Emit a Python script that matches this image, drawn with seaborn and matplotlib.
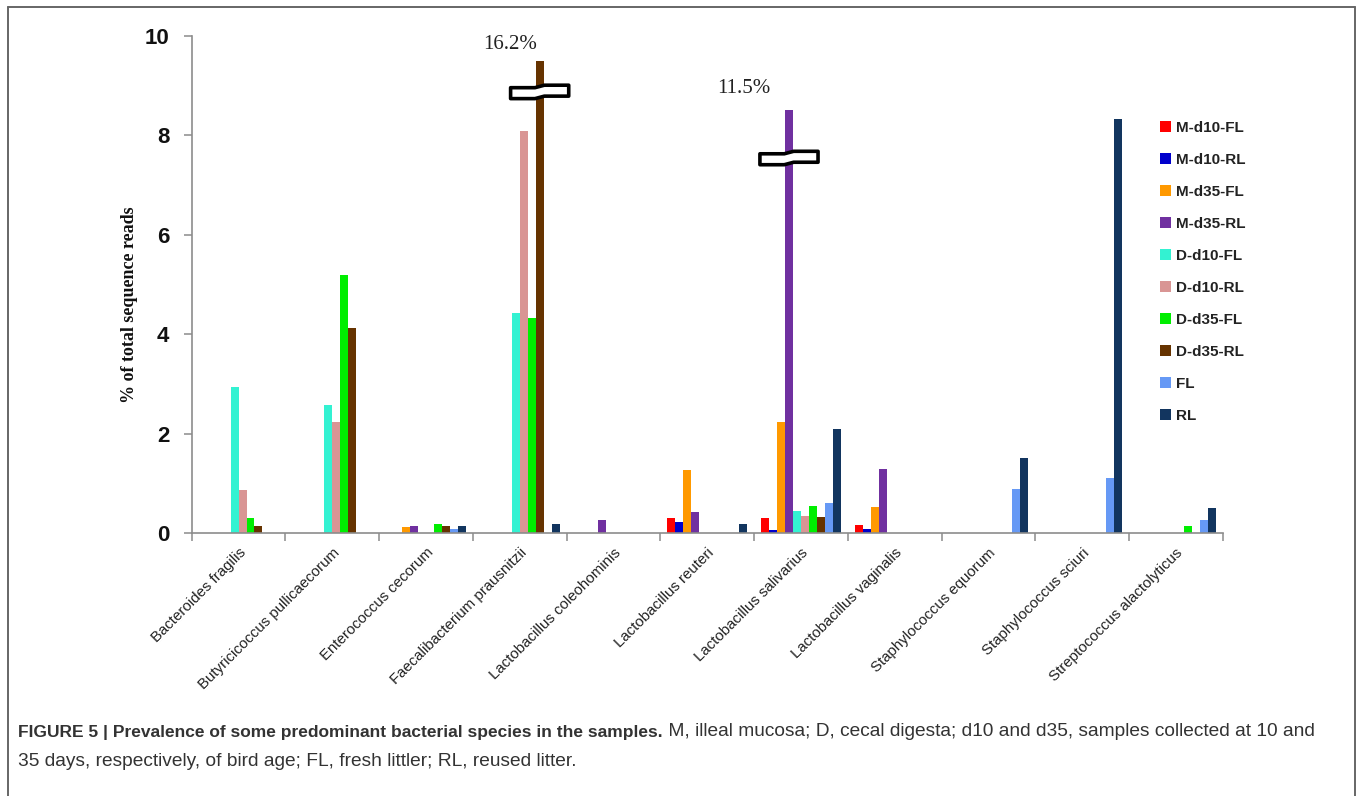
import numpy as np
import pandas as pd
import matplotlib
matplotlib.use("Agg")
import matplotlib.pyplot as plt
import seaborn as sns
from matplotlib.patches import Polygon
from matplotlib.lines import Line2D

# ---------------- data ----------------
species = ["Bacteroides fragilis", "Butyricicoccus pullicaecorum", "Enterococcus cecorum",
           "Faecalibacterium prausnitzii", "Lactobacillus coleohominis", "Lactobacillus reuteri",
           "Lactobacillus salivarius", "Lactobacillus vaginalis", "Staphylococcus equorum",
           "Staphylococcus sciuri", "Streptococcus alactolyticus"]
samples = ["M-d10-FL", "M-d10-RL", "M-d35-FL", "M-d35-RL", "D-d10-FL",
           "D-d10-RL", "D-d35-FL", "D-d35-RL", "FL", "RL"]

m_d10_fl = [0, 0, 0, 0, 0, 0.30, 0.30, 0.17, 0, 0, 0]
m_d10_rl = [0, 0, 0, 0, 0, 0.22, 0.07, 0.09, 0, 0, 0]
m_d35_fl = [0, 0, 0.12, 0, 0, 1.26, 2.24, 0.52, 0, 0, 0]
m_d35_rl = [0, 0, 0.15, 0, 0.27, 0.42, 8.51, 1.28, 0, 0, 0]
d_d10_fl = [2.93, 2.58, 0, 4.42, 0, 0, 0.44, 0, 0, 0, 0]
d_d10_rl = [0.86, 2.24, 0, 8.08, 0, 0, 0.34, 0, 0, 0, 0]
d_d35_fl = [0.31, 5.20, 0.18, 4.32, 0, 0, 0.55, 0, 0, 0, 0.15]
d_d35_rl = [0.15, 4.13, 0.15, 9.50, 0, 0, 0.32, 0, 0, 0, 0]
fl_vals = [0, 0, 0.09, 0, 0, 0, 0.60, 0, 0.88, 1.10, 0.27]
rl_vals = [0, 0, 0.15, 0.18, 0, 0.18, 2.09, 0, 1.51, 8.33, 0.50]

series = [m_d10_fl, m_d10_rl, m_d35_fl, m_d35_rl, d_d10_fl,
          d_d10_rl, d_d35_fl, d_d35_rl, fl_vals, rl_vals]

colors = ["#FF0000", "#0000CC", "#FF9900", "#7030A0", "#33F2D2",
          "#D99594", "#00EE00", "#663300", "#6699F5", "#12355F"]

# truncated bars (axis break) and their true values
break_species = ["Faecalibacterium prausnitzii", "Lactobacillus salivarius"]
break_samples = ["D-d35-RL", "M-d35-RL"]
break_labels = ["16.2%", "11.5%"]
break_at = [8.85, 7.52]
label_y = [9.82, 8.95]
label_dx = [-0.32, -0.48]

yticks = [0, 2, 4, 6, 8, 10]

caption_bold = "FIGURE 5 | Prevalence of some predominant bacterial species in the samples."
caption_rest1 = " M, illeal mucosa; D, cecal digesta; d10 and d35, samples collected at 10 and"
caption_line2 = "35 days, respectively, of bird age; FL, fresh littler; RL, reused litter."

# ---------------- frame ----------------
df = pd.DataFrame({
    "species": np.tile(species, len(samples)),
    "sample": np.repeat(samples, len(species)),
    "value": np.concatenate([np.asarray(s, dtype=float) for s in series]),
})

sns.set_style("white")
plt.rcParams["font.family"] = ["Liberation Sans", "DejaVu Sans"]

W, H = 1360, 796
fig = plt.figure(figsize=(W / 100, H / 100), dpi=100)
ax = fig.add_axes([191.7 / W, 1 - 533 / H, (1222.7 - 191.7) / W, (533 - 36) / H])

sns.barplot(data=df, x="species", y="value", hue="sample", order=species,
            hue_order=samples, palette=colors, saturation=1, width=0.85,
            gap=0, ax=ax, errorbar=None, linewidth=0)

ax.set_xlim(-0.5, len(species) - 0.5)
ax.set_ylim(0, 10)
ax.set_yticks(yticks)
ax.set_yticklabels([str(t) for t in yticks], fontsize=16, fontweight="bold", color="#111111")

for s in ["top", "right"]:
    ax.spines[s].set_visible(False)
for s in ["left", "bottom"]:
    ax.spines[s].set_color("#8c8c8c")
    ax.spines[s].set_linewidth(1.2)

ax.tick_params(axis="y", direction="out", length=6, width=1.1, color="#8c8c8c", pad=10, left=True)
ax.set_xticks(range(len(species)))
ax.set_xticklabels(species, rotation=45, ha="right", va="top", rotation_mode="anchor",
                   fontsize=10.8, color="#222222")
ax.tick_params(axis="x", which="major", length=0, pad=9)
ax.set_xticks(np.arange(-0.5, len(species), 1.0), minor=True)
ax.tick_params(axis="x", which="minor", direction="out", length=6, width=1.1,
               color="#8c8c8c", bottom=True)
ax.set_xlabel("")
ax.set_ylabel("")

fig.text(130 / W, 1 - 305 / H, "% of total sequence reads", rotation=90,
         ha="center", va="center", fontsize=13, fontweight="bold",
         family=["Liberation Serif", "DejaVu Serif"], color="#111111")

# legend
sns.move_legend(ax, loc="upper left", bbox_to_anchor=(1152 / W, 1 - 113 / H),
                bbox_transform=fig.transFigure, frameon=False, title=None,
                prop={"weight": "bold", "size": 11}, labelspacing=1.18,
                handlelength=0.75, handleheight=0.75, handletextpad=0.35, borderpad=0)
for t in ax.get_legend().get_texts():
    t.set_color("#222222")

# axis breaks on truncated bars
for sp, sm, lab, yb, ly, dx in zip(break_species, break_samples, break_labels,
                                   break_at, label_y, label_dx):
    bar = ax.containers[samples.index(sm)][species.index(sp)]
    xc = bar.get_x() + bar.get_width() / 2
    hw, hh, st, d = 0.31, 0.11, 0.05, 0.05
    pts = [(xc - hw, yb - hh), (xc - d, yb - hh), (xc + d, yb - hh + st), (xc + hw, yb - hh + st),
           (xc + hw, yb + hh + st), (xc + d, yb + hh + st), (xc - d, yb + hh), (xc - hw, yb + hh)]
    ax.add_patch(Polygon(pts, closed=True, facecolor="white", edgecolor="black",
                         linewidth=2.6, joinstyle="round", zorder=5))
    ax.text(xc + dx, ly, lab, ha="center", va="center", fontsize=15,
            family=["Liberation Serif", "DejaVu Serif"], color="#222222", zorder=6)

# outer frame
fc = "#666666"
fig.add_artist(Line2D([7.5 / W, 1354.5 / W], [1 - 7 / H, 1 - 7 / H], transform=fig.transFigure, color=fc, lw=1.4))
fig.add_artist(Line2D([7.5 / W, 7.5 / W], [1 - 7 / H, 0], transform=fig.transFigure, color=fc, lw=1.4))
fig.add_artist(Line2D([1354.5 / W, 1354.5 / W], [1 - 7 / H, 0], transform=fig.transFigure, color=fc, lw=1.4))

# caption
cap_fam = ["Liberation Sans", "DejaVu Sans"]
t1 = fig.text(18 / W, 1 - 732 / H, caption_bold, ha="left", va="center", fontsize=12.5,
              fontweight="bold", family=cap_fam, color="#333333")
fig.canvas.draw()
bb = t1.get_window_extent(renderer=fig.canvas.get_renderer())
fig.text(bb.x1 / W, 1 - 732 / H, caption_rest1, ha="left", va="center", fontsize=13.8,
         family=cap_fam, color="#333333")
fig.text(18 / W, 1 - 762 / H, caption_line2, ha="left", va="center", fontsize=13.8,
         family=cap_fam, color="#333333")

fig.savefig("out.png", dpi=100)
